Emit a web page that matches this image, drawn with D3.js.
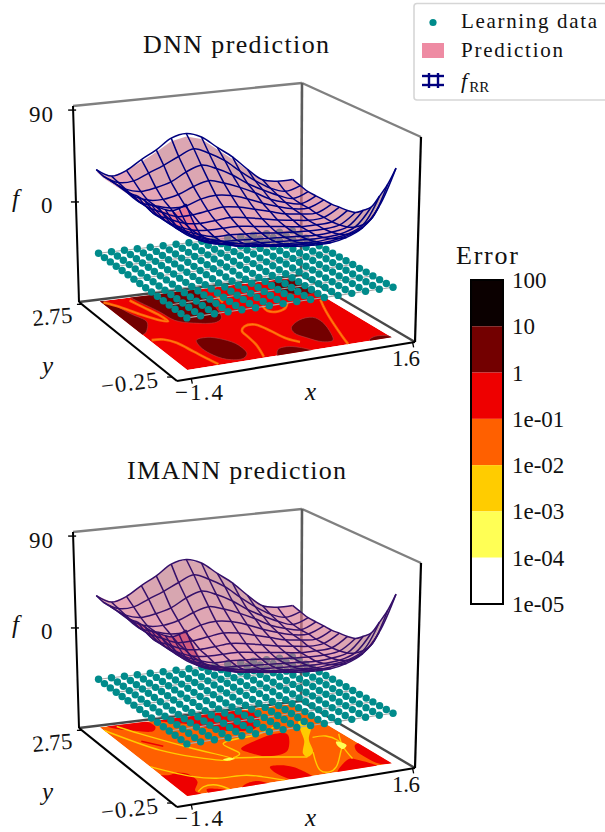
<!DOCTYPE html>
<html><head><meta charset="utf-8"><style>html,body{margin:0;padding:0;background:#fff}svg{display:block}</style>
<script src="https://cdn.jsdelivr.net/npm/d3@7/dist/d3.min.js"></script></head><body><div id="c"></div>
<script>
// ---------- data ----------
const learningX=[-1.4,-1.2,-1,-.8,-.6,-.4,-.2,0,.2,.4,.6,.8,1,1.2,1.4,1.6];
const learningY=[-.25,-.05,.15,.35,.55,.75,.95,1.15,1.35,1.55,1.75,1.95,2.15,2.35,2.55,2.75];
const learningZ=-51;
const meshX=[-1.4,-1.17,-.94,-.71,-.48,-.25,-.02,.21,.45,.68,.91,1.14,1.37,1.6];
const meshY=[-.25,-.02,.21,.44,.67,.9,1.13,1.37,1.6,1.83,2.06,2.29,2.52,2.75];
// surface heights, one row per meshX value
const fRRZ=[
[52,44,38,35,33,31,31,31,29,29,29,29,29,31],
[21,17,15,13,13,13,13,13,15,15,17,19,21,23],
[15,10,6,4,4,4,4,6,8,10,11,15,21,27],
[11,6,2,-2,-2,-2,-2,0,2,6,10,17,27,36],
[8,2,-2,-4,-6,-6,-4,-2,2,6,13,21,33,44],
[5,0,-4,-6,-7,-6,-4,-1,4,11,19,29,40,54],
[2,-2,-5,-7,-8,-7,-4,0,6,13,23,34,46,57],
[0,-3,-6,-8,-9,-8,-6,-2,4,11,19,29,40,52],
[-1,-4,-7,-9,-10,-10,-8,-5,0,6,13,21,31,40],
[-1,-5,-8,-10,-11,-11,-10,-8,-4,0,6,11,19,29],
[2,-3,-7,-10,-12,-12,-12,-10,-8,-5,-2,3,8,15],
[9,1,-5,-9,-11,-12,-12,-12,-10,-9,-7,-4,-1,3],
[27,11,2,-4,-8,-10,-11,-11,-11,-10,-10,-9,-6,0],
[61,42,27,13,6,0,-2,-3,-4,-4,-4,-4,-2,0]];
const dnnZ=[
[50,42,36,33,31,29,29,29,27,27,27,27,27,29],
[21,17,15,13,13,13,13,13,15,15,17,19,21,23],
[15,10,6,4,4,4,4,6,8,10,11,15,21,27],
[11,6,2,-2,-2,-2,-2,0,2,6,10,17,27,34],
[8,2,-2,-4,-6,-6,-4,-2,2,6,13,21,32,42],
[5,0,-4,-6,-7,-6,-4,-1,4,11,19,29,39,51],
[2,-2,-5,-7,-8,-7,-4,0,6,13,23,34,45,54],
[0,-3,-6,-8,-9,-8,-6,-2,4,11,19,29,39,50],
[-1,-4,-7,-9,-10,-10,-8,-5,0,6,13,21,30,38],
[-1,-5,-8,-10,-11,-11,-10,-8,-4,0,6,11,18,27],
[2,-3,-7,-10,-12,-12,-12,-10,-8,-5,-2,3,8,14],
[9,1,-5,-9,-11,-12,-12,-12,-10,-9,-7,-4,-1,3],
[27,11,2,-4,-8,-10,-11,-11,-11,-10,-10,-9,-6,0],
[61,42,27,13,6,0,-2,-3,-4,-4,-4,-4,-2,0]];
const imannZ=fRRZ;
// error contours in (x,y)
const dnnDarkRegions=[
[[-.81,.79],[-.63,.84],[-.46,.67],[-.37,.37],[-.41,.01],[-.53,-.15],[-.75,-.09],[-.86,.22],[-.87,.53]],
[[.586,.734],[.83,.99],[1.045,1.02],[1.07,.77],[.955,.27],[.856,0],[.706,0],[.586,.26],[.526,.51]],
[[-1.5,2.8],[-1.33,2.72],[-1.2,2.11],[-1.13,1.74],[-1.26,1.45],[-1.35,1.32],[-1.5,1.3]],
[[-.917,2.73],[-.79,2.05],[-.743,1.66],[-.554,1.46],[-.24,1.37],[-.1,1.51],[.02,1.95],[.08,2.38],[.1,2.85],[-.917,2.85]],
[[1.21,2.62],[1.65,2.6],[1.65,2.05],[1.32,2.02],[1.17,2.32]],
[[-.09,-.3],[.03,-.03],[.18,.03],[.33,-.08],[.42,-.3]],
[[1.27,-.3],[1.3,-.2],[1.43,-.11],[1.55,-.14],[1.65,-.3]]];
const dnnOrangeLines=[
[[-1.37,2.69],[-1.23,2.44],[-1.09,2.07],[-.935,1.74],[-.845,1.655],[-.85,1.925],[-.926,2.32],[-.986,2.64]],
[[-1.37,1.04],[-1.21,1],[-1.1,.806],[-1.03,.38],[-.98,.06],[-.93,-.22]],
[[-.26,-.21],[-.15,.266],[-.11,.63],[-.08,.89],[.03,1.05],[.19,1.07],[.26,.84],[.33,.34],[.43,.13]],
[[1.495,1.69],[1.33,1.2],[1.03,.07],[.96,-.25]],
[[.64,1.76],[.61,1.535],[.73,1.45],[.9,1.56],[1.02,1.75]],
[[.265,2.46],[.2,2.1]]];
const imannRedRegions=[
[[.055,1.21],[.466,1.49],[.727,1.61],[.91,1.53],[.745,1.13],[.553,.827],[.232,.776],[.115,.953]],
[[.085,.35],[.235,.356],[.367,.212],[.427,-.13],[.42,-.3],[.163,-.3],[.052,.06]],
[[-1.5,.65],[-1.29,.61],[-1.16,.66],[-1.03,.5],[-1.05,.21],[-1.22,-.1],[-1.2,-.3],[-1.5,-.3]],
[[-1.1,-.3],[-1.06,-.12],[-.92,-.17],[-.84,-.3]],
[[-.62,-.3],[-.53,-.18],[-.32,-.11],[-.22,-.3]],
[[.78,-.3],[.84,-.19],[1.19,.19],[1.28,.07],[1.37,-.3]],
[[1.52,.7],[1.65,.75],[1.65,-.25],[1.45,-.19],[1.41,.13],[1.43,.48]],
[[-1.28,2.8],[-1.26,2.68],[-1,2.45],[-.75,2.35],[-.65,2.5],[-.7,2.8]],
[[-.48,2.72],[0,2.8],[.6,2.8],[.93,2.47],[.64,1.96],[.2,1.99],[0,2.23],[-.19,2.46]]];
const imannRedLines=[[[-1.09,2.02],[-.89,1.72]]];
const imannGoldRegions=[
[[1.31,1.99],[1.36,1.72],[1.08,1.21],[.88,.67],[.72,.51],[.73,.67],[.99,1.17],[1.14,1.58]]];
const imannYellowRegions=[
[[1.36,.95],[1.42,.75],[1.3,.62],[1.3,.78]],
[[-.36,.9],[-.24,.93],[-.2,.86],[-.33,.83]]];
const imannGoldLines=[
[[1.16,1.26],[1.35,1.24],[1.41,1],[1.36,.75]],
[[1.55,1.25],[1.36,.75],[1.23,.18]],
[[.88,.67],[.63,-.08],[.71,-.2],[.88,-.05],[1.25,.57],[1.36,.75]],
[[-1.4,2.62],[-1,1.59],[-.69,1.16],[-.33,.85],[-.24,.88],[-.55,1.48],[-.98,2.32],[-1.16,2.7]],
[[-1.4,1.03],[-1.02,.42],[-.76,.23],[-.34,.17],[-.17,.01],[.03,-.25]],
[[-1.2,-.16],[-1.06,-.01],[-.87,-.02],[-.78,-.25]],
[[-.21,.9],[.22,.75],[.66,.54],[.72,.51]],
[[-.21,.9],[-.05,1.03],[-.08,1.5],[.56,1.69],[.9,1.9]]];
const errorLevels=[100,10,1,.1,.01,.001,.0001,.00001];
const errorLabels=["100","10","1","1e-01","1e-02","1e-03","1e-04","1e-05"];
const errorColors=["#0b0000","#730000","#ee0000","#ff6000","#ffcc00","#ffff55","#ffffff"];
const xTicks=[-1.4,1.6],yTicks=[-.25,2.75],zTicks=[0,90];
const legendLabels=["Learning data","Prediction"];
// ---------- style ----------
const serif='"Liberation Serif",serif',INK="#111";
const svg=d3.select("#c").append("svg").attr("width",605).attr("height",832).attr("viewBox","0 0 605 832").style("background","#fff");
const txt=(g,x,y,s,o={})=>{const t=g.append("text").attr("x",x).attr("y",y).attr("fill",INK).attr("font-family",serif).attr("font-size",o.size||23);
 if(o.len)t.attr("textLength",o.len).attr("lengthAdjust","spacing");
 if(o.anchor)t.attr("text-anchor",o.anchor);if(o.italic)t.attr("font-style","italic");if(o.rot)t.attr("transform",`rotate(${o.rot} ${x} ${y})`);t.text(s);return t;};
// ---------- cube projection ----------
const floorC={L:[79,302],F:[177,381],R:[415,342],B:[301,275]},ceilC={L:[73,106],F:[175,166],R:[421,137],B:[302,83]};
const xS=d3.scaleLinear().domain([-1.4,1.6]).range([.085,.95]);
const yS=d3.scaleLinear().domain([-.25,2.75]).range([.10,.98]);
const zS=d3.scaleLinear().domain([-98,94]).range([0,1]);
const bil=(c,u,v,k)=>c.F[k]*(1-u)*(1-v)+c.R[k]*u*(1-v)+c.L[k]*(1-u)*v+c.B[k]*u*v;
const cube=(u,v,w,oy)=>[bil(floorC,u,v,0)*(1-w)+bil(ceilC,u,v,0)*w,bil(floorC,u,v,1)*(1-w)+bil(ceilC,u,v,1)*w+oy];
const lineG=d3.line();
function panel(oy,title,titleX,titleLen,predZ,opt){
 const g=svg.append("g"),P=(x,y,z)=>cube(xS(x),yS(y),zS(z),oy),C=(u,v,w)=>cube(u,v,w,oy);
 txt(g,titleX,53+oy,title,{size:26,len:titleLen});
 // box
 const seg=(a,b,col,w)=>g.append("path").attr("d",lineG([a,b])).attr("stroke",col).attr("stroke-width",w).attr("fill","none");
 seg(C(0,1,1),C(1,1,1),"#808080",2.4);seg(C(1,1,1),C(1,0,1),"#808080",2.4);
 seg(C(1,1,0),C(1,1,1),"#5c5c5c",2.6);
 seg(C(0,1,0),C(1,1,0),"#484848",2.4);seg(C(1,1,0),C(1,0,0),"#484848",2.4);
 seg(C(0,0,0),C(0,1,0),"#000",2.2);seg(C(0,0,0),C(1,0,0),"#000",2.2);
 seg(C(0,1,0),C(0,1,1),"#000",2);seg(C(1,0,0),C(1,0,1),"#000",2.2);
 // ticks
 zTicks.forEach(z=>{const w=zS(z),p=C(0,1,w);seg([p[0]-5,p[1]],[p[0]+3,p[1]],"#000",1.4);});
 xTicks.forEach(x=>{const a=C(xS(x)<.5?.06:.99,0,0);seg(a,[a[0]+1,a[1]+5],"#000",1.3);});
 yTicks.forEach(y=>{const a=C(0,yS(y)>.5?.97:.05,0);seg(a,[a[0]-5,a[1]],"#000",1.3);});
 // contours
 const id="clip"+oy;
 const q=[P(-1.4,-.25,-98),P(1.6,-.25,-98),P(1.6,2.75,-98),P(-1.4,2.75,-98)];
 g.append("clipPath").attr("id",id).append("path").attr("d",lineG(q)+"Z");
 const cg=g.append("g").attr("clip-path",`url(#${id})`);
 cg.append("path").attr("d",lineG(q)+"Z").attr("fill",opt.base);
 const proj=pts=>pts.map(d=>P(d[0],d[1],-98));
 const closed=d3.line().curve(d3.curveCatmullRomClosed.alpha(.5)),open=d3.line().curve(d3.curveCatmullRom.alpha(.5));
 opt.regions.forEach(r=>r.data.forEach(pts=>cg.append("path").attr("d",closed(proj(pts))).attr("fill",r.color).attr("stroke",r.edge||"none").attr("stroke-width",.5)));
 opt.lines.forEach(r=>r.data.forEach(pts=>{cg.append("path").attr("d",open(proj(pts))).attr("fill","none").attr("stroke",r.color).attr("stroke-width",r.width);
   if(r.inner)cg.append("path").attr("d",open(proj(pts))).attr("fill","none").attr("stroke",r.inner).attr("stroke-width",.7);}));
 (opt.top||[]).forEach(r=>r.data.forEach(pts=>cg.append("path").attr("d",closed(proj(pts))).attr("fill",r.color)));
 // learning data: reference wire then dots
 const gl=g.append("g").attr("fill","none").attr("stroke","#a9a9a9").attr("stroke-width",1.1);
 learningX.forEach((x,i)=>{if(i%3===0)gl.append("path").attr("d",lineG(learningY.map(y=>P(x,y,learningZ))));});
 learningY.forEach((y,j)=>{if(j%3===0)gl.append("path").attr("d",lineG(learningX.map(x=>P(x,y,learningZ))));});
 const dots=[];learningX.forEach(x=>learningY.forEach(y=>dots.push([x,y])));
 dots.sort((a,b)=>(xS(b[0])+yS(b[1]))-(xS(a[0])+yS(a[1])));
 g.append("g").selectAll("circle").data(dots).join("circle").attr("cx",d=>P(d[0],d[1],learningZ)[0]).attr("cy",d=>P(d[0],d[1],learningZ)[1]).attr("r",3.7).attr("fill","#008b8b");
 // surface
 const cells=[];
 for(let i=0;i<13;i++)for(let j=0;j<13;j++)cells.push({i,j,d:i+j});
 cells.sort((a,b)=>b.d-a.d);
 const area=p=>{let s=0;for(let k=0;k<p.length;k++){const a=p[k],b=p[(k+1)%p.length];s+=a[0]*b[1]-b[0]*a[1];}return s;};
 const sg=g.append("g");
 const top=d3.interpolateRgb(opt.dim,opt.lit);
 cells.forEach(c=>{const {i,j}=c;
  const pts=[[i,j],[i+1,j],[i+1,j+1],[i,j+1]].map(([a,b])=>P(meshX[a],meshY[b],predZ[a][b]));
  const du=xS(meshX[i+1])-xS(meshX[i]),dv=yS(meshY[j+1])-yS(meshY[j]);
  const gx=(zS(predZ[i+1][j])+zS(predZ[i+1][j+1])-zS(predZ[i][j])-zS(predZ[i][j+1]))/2/du;
  const gy=(zS(predZ[i][j+1])+zS(predZ[i+1][j+1])-zS(predZ[i][j])-zS(predZ[i+1][j]))/2/dv;
  const nz=1/Math.sqrt(1+gx*gx+gy*gy),sh=Math.max(0,Math.min(1,(nz-.45)/.5));
  const under=area(pts)>0;
  sg.append("path").attr("d",lineG(pts)+"Z").attr("fill",under?opt.under:top(sh)).attr("fill-opacity",.62);
 });
 const wire=d3.line().curve(d3.curveCatmullRom.alpha(.5));
 const wg=g.append("g").attr("fill","none").attr("stroke",opt.wire).attr("stroke-width",1.5);
 meshX.forEach((x,i)=>wg.append("path").attr("d",wire(meshY.map((y,j)=>P(x,y,fRRZ[i][j])))));
 meshY.forEach((y,j)=>wg.append("path").attr("d",wire(meshX.map((x,i)=>P(x,y,fRRZ[i][j])))));
 // axis text
 txt(g,29,122+oy,"90",{len:24});txt(g,41,213+oy,"0");
 txt(g,12,207+oy,"f",{italic:true,size:25});
 txt(g,33,326+oy,"2.75",{len:40,rot:-5});txt(g,42,374+oy,"y",{italic:true,size:25});
 txt(g,102,394+oy,"\u22120.25",{len:57,rot:-7});txt(g,175,400+oy,"\u22121.4",{len:48});
 txt(g,305,400+oy,"x",{italic:true,size:25});txt(g,392,366+oy,"1.6",{len:28});
}
panel(0,"DNN prediction",143,186,dnnZ,{base:"#ee0000",dim:"#a96f78",lit:"#d9708a",under:"#f0607e",wire:"#00007f",
 regions:[{data:dnnDarkRegions,color:"#730000",edge:"#b05050"}],
 lines:[{data:dnnOrangeLines,color:"#ff6000",width:2.6,inner:"#ff8a20"}]});
panel(426,"IMANN prediction",127,219,imannZ,{base:"#ff6000",dim:"#a96f78",lit:"#d9708a",under:"#c42c5a",wire:"#35106a",
 regions:[{data:imannRedRegions,color:"#ee0000"},{data:imannGoldRegions,color:"#ffcc00"}],
 lines:[{data:imannRedLines,color:"#ee0000",width:1.5},{data:imannGoldLines,color:"#ffcc00",width:1.4}],
 top:[{data:imannYellowRegions,color:"#ffff55"}]});
// legend
const lg=svg.append("g");
lg.append("rect").attr("x",414).attr("y",3.5).attr("width",200).attr("height",96.5).attr("rx",3).attr("fill","#fff").attr("stroke","#d6d6d6").attr("stroke-width",1.6);
lg.append("circle").attr("cx",433).attr("cy",22.5).attr("r",3.6).attr("fill","#008b8b");
lg.append("rect").attr("x",422).attr("y",43).attr("width",22).attr("height",15).attr("fill","#ee8ba3");
const w=lg.append("g").attr("stroke","#00007f").attr("stroke-width",2.4);
[[422,76,444,76],[422,85,444,85],[429,73,429,88],[438,73,438,88]].forEach(a=>w.append("line").attr("x1",a[0]).attr("y1",a[1]).attr("x2",a[2]).attr("y2",a[3]));
txt(lg,461,28,legendLabels[0],{size:21,len:136});txt(lg,461,57,legendLabels[1],{size:21,len:102});
const fr=txt(lg,461,88,"",{size:22,italic:true});fr.append("tspan").text("f");
fr.append("tspan").attr("font-style","normal").attr("font-size",15).attr("dy",4).attr("dx",2).text("RR");
// colourbar
const cb=svg.append("g"),yErr=d3.scaleLog().domain([1e-5,100]).range([604,280]);
errorColors.forEach((c,i)=>cb.append("rect").attr("x",471).attr("width",32).attr("y",yErr(errorLevels[i])).attr("height",yErr(errorLevels[i+1])-yErr(errorLevels[i])).attr("fill",c));
cb.append("rect").attr("x",471).attr("y",280).attr("width",32).attr("height",324).attr("fill","none").attr("stroke","#000").attr("stroke-width",2);
errorLevels.forEach((v,i)=>txt(cb,512,yErr(v)+8,errorLabels[i],{size:23}));
txt(cb,456,264,"Error",{size:26,len:62});
</script></body></html>
